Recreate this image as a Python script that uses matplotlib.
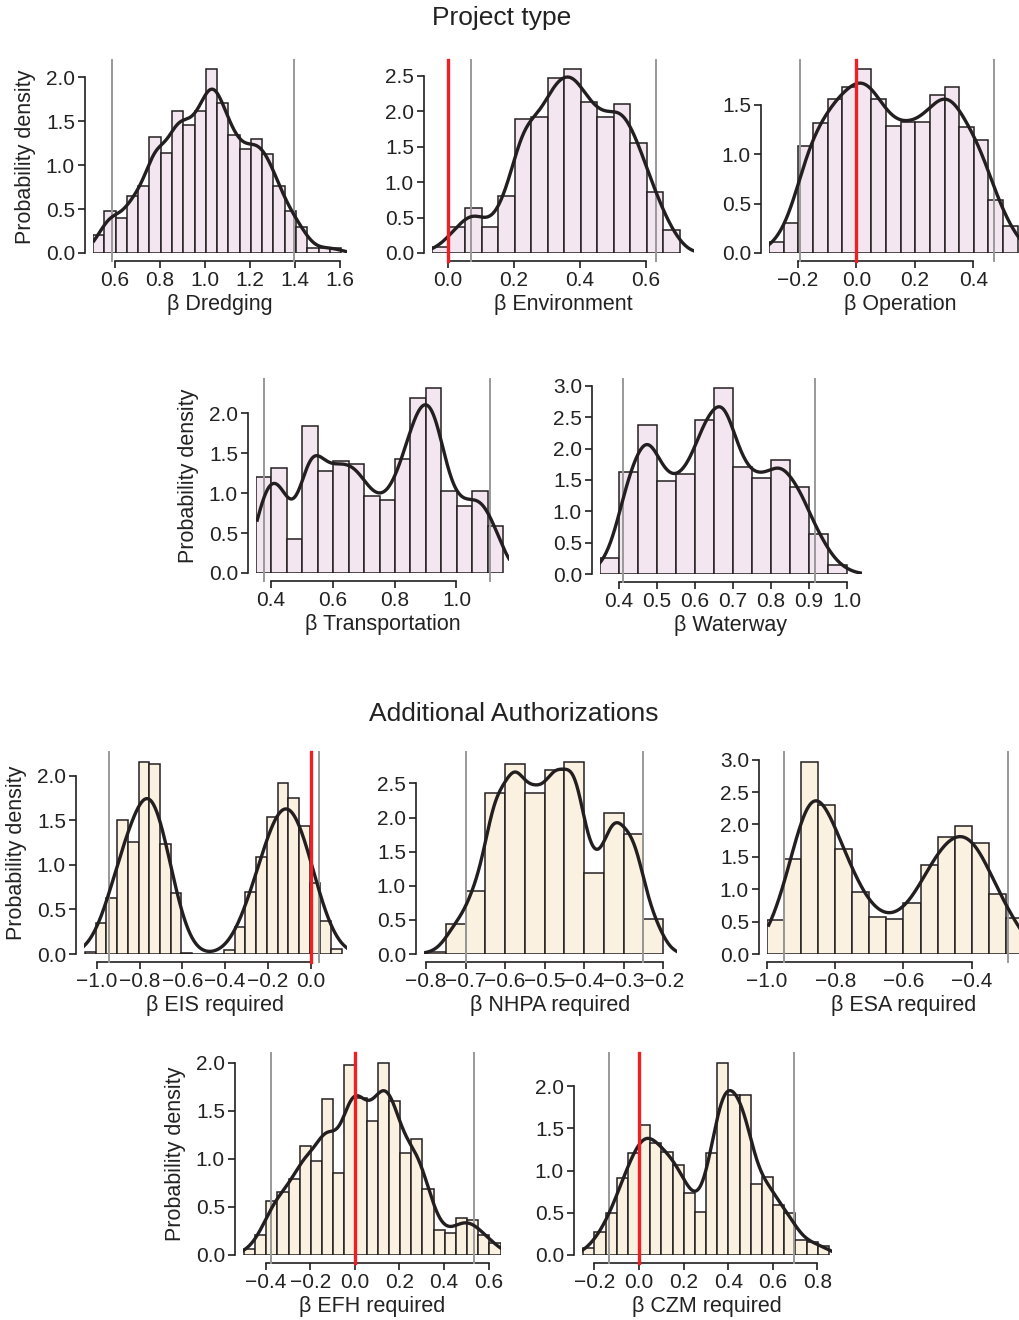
import numpy as np
import matplotlib.pyplot as plt

plt.rcParams["font.family"] = ["Liberation Sans", "DejaVu Sans"]
plt.rcParams["axes.unicode_minus"] = True

BIN_W = 0.05

# ---- Project type: histogram heights (density), first bin edge, 95% interval ----
dredging_start = 0.504
dredging = [0.20, 0.48, 0.40, 0.645, 0.765, 1.32, 1.14, 1.62, 1.45, 1.62, 2.09,
            1.70, 1.34, 1.18, 1.30, 1.12, 0.76, 0.48, 0.30, 0.06, 0.06, 0.06]
dredging_ci = [0.590, 1.396]
dredging_kde = [0.508, 1.63, 0.040]

environment_start = -0.048
environment = [0.09, 0.37, 0.63, 0.36, 0.81, 1.89, 1.91, 2.47, 2.59, 2.13,
               1.92, 2.10, 1.55, 0.86, 0.32]
environment_ci = [0.070, 0.631]
environment_kde = [-0.048, 0.745, 0.035]

operation_start = -0.299
operation = [0.107, 0.307, 1.08, 1.32, 1.56, 1.68, 1.86, 1.56, 1.29, 1.33,
             1.33, 1.60, 1.68, 1.27, 1.14, 0.54, 0.27]
operation_ci = [-0.194, 0.471]
operation_kde = [-0.299, 0.60, 0.045]

transportation_start = 0.351
transportation = [1.195, 1.31, 0.43, 1.84, 1.27, 1.40, 1.36, 0.96, 0.91, 1.42,
                  2.19, 2.31, 1.02, 0.84, 1.03, 0.585]
transportation_ci = [0.377, 1.107]
transportation_kde = [0.355, 1.17, 0.037]

waterway_start = 0.35
waterway = [0.25, 1.62, 2.38, 1.48, 1.59, 2.46, 2.96, 1.71, 1.53, 1.82, 1.38,
            0.64, 0.15]
waterway_ci = [0.411, 0.915]
waterway_kde = [0.35, 1.04, 0.032]

# ---- Additional authorizations ----
eis_start = -1.055
eis = [0.02, 0.35, 0.63, 1.50, 1.26, 2.16, 2.13, 1.24, 0.68, 0.01, 0.0, 0.0,
       0.0, 0.05, 0.30, 0.70, 1.09, 1.54, 1.92, 1.75, 1.44, 0.80, 0.37, 0.06]
eis_ci = [-0.941, 0.039]
eis_kde = [-1.06, 0.17, 0.064]

nhpa_start = -0.80
nhpa = [0.03, 0.44, 0.93, 2.36, 2.78, 2.36, 2.70, 2.82, 1.19, 2.07, 1.76, 0.51]
nhpa_ci = [-0.70, -0.25]
nhpa_kde = [-0.805, -0.165, 0.028]

esa_start = -1.0
esa = [0.53, 1.47, 2.97, 2.30, 1.62, 0.95, 0.57, 0.54, 0.78, 1.38, 1.80, 1.98,
       1.71, 0.92, 0.55]
esa_ci = [-0.951, -0.295]
esa_kde = [-0.995, -0.20, 0.045]

efh_start = -0.497
efh = [0.06, 0.21, 0.56, 0.66, 0.79, 1.13, 0.98, 1.62, 0.85, 1.98, 1.63, 1.39,
       2.00, 1.60, 1.06, 1.21, 0.69, 0.26, 0.23, 0.38, 0.36, 0.21, 0.12]
efh_ci = [-0.375, 0.533]
efh_kde = [-0.501, 0.655, 0.045]

czm_start = -0.249
czm = [0.08, 0.27, 0.50, 0.91, 1.21, 1.54, 1.33, 1.22, 1.07, 0.73, 0.51, 1.21,
       2.28, 1.90, 1.90, 0.84, 0.93, 0.59, 0.50, 0.18, 0.15, 0.11]
czm_ci = [-0.133, 0.694]
czm_kde = [-0.255, 0.865, 0.045]

W, H = 1020, 1320
EDGE = "#231f20"
TEXT = "#222222"
PINK = "#f3e6f0"
CREAM = "#fbf1e1"

fig = plt.figure(figsize=(W / 100, H / 100), dpi=100)


def fmt(v):
    return f"{v + 0.0:.1f}".replace("-", "\u2212")


def panel(rect, start, heights, ci, kde, xticks, yticks, xlabel, color,
          ylabel=False, zero=False):
    l, t, r, b = rect
    ax = fig.add_axes([l / W, 1 - b / H, (r - l) / W, (b - t) / H])
    heights = np.asarray(heights)
    edges = start + BIN_W * np.arange(len(heights) + 1)
    centers = edges[:-1] + BIN_W / 2
    ax.bar(edges[:-1], heights, width=BIN_W, align="edge", color=color,
           edgecolor=EDGE, linewidth=1.1, zorder=2)

    # smoothed density of the binned samples
    lo, hi, bw = kde
    xs = np.linspace(lo, hi, 500)
    dens = (heights * BIN_W * np.exp(-0.5 * ((xs[:, None] - centers) / bw) ** 2)).sum(1)
    dens /= bw * np.sqrt(2 * np.pi)
    ax.plot(xs, dens, color=EDGE, lw=2.4, zorder=4)

    for v in ci:
        ax.axvline(v, ymin=-0.04, ymax=1, color="#999999", lw=1.4,
                   clip_on=False, zorder=3)
    if zero:
        ax.axvline(0, ymin=-0.04, ymax=1, color="#ee2024", lw=2.4,
                   clip_on=False, zorder=5)

    ax.set_xlim(min(edges[0], lo), max(edges[-1], hi))
    ax.set_xticks(xticks)
    ax.set_yticks(yticks)
    ax.set_xticklabels([fmt(v) for v in xticks])
    ax.set_yticklabels([fmt(v) for v in yticks])
    ax.tick_params(labelsize=15, length=5, width=1.2, color=EDGE,
                   labelcolor=TEXT, pad=2)
    for s in ("top", "right"):
        ax.spines[s].set_visible(False)
    for s in ("left", "bottom"):
        ax.spines[s].set_position(("outward", 6))
        ax.spines[s].set_linewidth(1.2)
        ax.spines[s].set_color(EDGE)
    ax.spines["bottom"].set_bounds(xticks[0], xticks[-1])
    ax.spines["left"].set_bounds(yticks[0], yticks[-1])
    ax.patch.set_visible(False)
    ax.set_xlabel(xlabel, fontsize=15.5, color=TEXT, labelpad=3)
    if ylabel:
        ax.set_ylabel("Probability density", fontsize=15.5, color=TEXT,
                      labelpad=7)
    return ax


def steps(a, b, s):
    return list(np.round(np.arange(a, b + s / 2, s), 2))


fig.text(502 / W, 1 - 18 / H, "Project type", ha="center", va="center",
         fontsize=19, color=TEXT)
fig.text(514 / W, 1 - 714 / H, "Additional Authorizations", ha="center",
         va="center", fontsize=19, color=TEXT)

panel((93, 60, 347, 253), dredging_start, dredging, dredging_ci, dredging_kde,
      steps(0.6, 1.6, 0.2), steps(0, 2.0, 0.5), "β Dredging", PINK, ylabel=True)
panel((432, 60, 694, 253), environment_start, environment, environment_ci,
      environment_kde, steps(0.0, 0.6, 0.2), steps(0, 2.5, 0.5),
      "β Environment", PINK, zero=True)
panel((769, 60, 1032, 253), operation_start, operation, operation_ci,
      operation_kde, steps(-0.2, 0.4, 0.2), steps(0, 1.5, 0.5),
      "β Operation", PINK, zero=True)
panel((256, 379, 509, 573), transportation_start, transportation,
      transportation_ci, transportation_kde, steps(0.4, 1.0, 0.2),
      steps(0, 2.0, 0.5), "β Transportation", PINK, ylabel=True)
panel((600, 379, 862, 574), waterway_start, waterway, waterway_ci, waterway_kde,
      steps(0.4, 1.0, 0.1), steps(0, 3.0, 0.5), "β Waterway", PINK)

panel((84, 752, 347, 954), eis_start, eis, eis_ci, eis_kde,
      steps(-1.0, 0.0, 0.2), steps(0, 2.0, 0.5), "β EIS required", CREAM,
      ylabel=True, zero=True)
panel((424, 752, 677, 954), nhpa_start, nhpa, nhpa_ci, nhpa_kde,
      steps(-0.8, -0.2, 0.1), steps(0, 2.5, 0.5), "β NHPA required", CREAM)
panel((767, 752, 1040, 954), esa_start, esa, esa_ci, esa_kde,
      steps(-1.0, -0.4, 0.2), steps(0, 3.0, 0.5), "β ESA required", CREAM)
panel((243, 1053, 501, 1255), efh_start, efh, efh_ci, efh_kde,
      steps(-0.4, 0.6, 0.2), steps(0, 2.0, 0.5), "β EFH required", CREAM,
      ylabel=True, zero=True)
panel((582, 1053, 832, 1255), czm_start, czm, czm_ci, czm_kde,
      steps(-0.2, 0.8, 0.2), steps(0, 2.0, 0.5), "β CZM required", CREAM,
      zero=True)

fig.savefig("out.png", dpi=100)
